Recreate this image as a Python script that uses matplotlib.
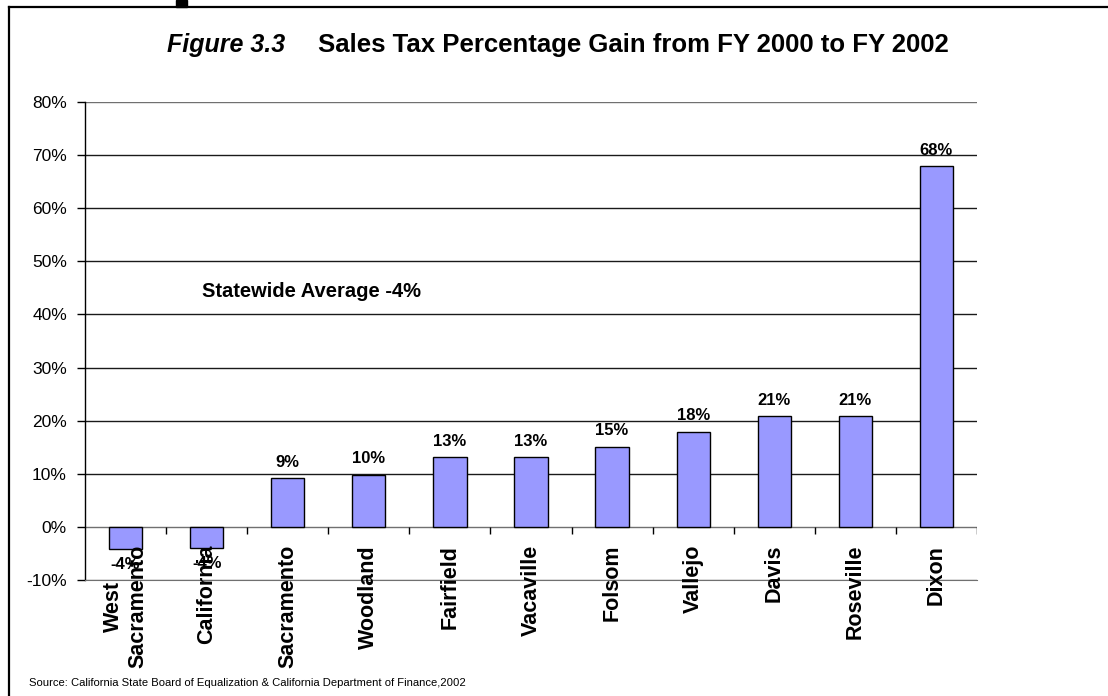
import numpy as np
import matplotlib
matplotlib.use("Agg")
import matplotlib.pyplot as plt
from matplotlib.patches import Rectangle
from matplotlib.lines import Line2D

plt.rcParams['font.family'] = ['Liberation Sans', 'DejaVu Sans']

# dados (ganho percentual FY2000 -> FY2002)
cidades = ['West\nSacramento', 'California', 'Sacramento', 'Woodland', 'Fairfield',
           'Vacaville', 'Folsom', 'Vallejo', 'Davis', 'Roseville', 'Dixon']
ganho = [-4.1, -4.0, 9.2, 9.8, 13.1, 13.1, 15.1, 17.9, 20.9, 20.9, 67.9]
rotulos = ['-4%', '-4%', '9%', '10%', '13%', '13%', '15%', '18%', '21%', '21%', '68%']
yticks = [-10, 0, 10, 20, 30, 40, 50, 60, 70, 80]

fig = plt.figure(figsize=(11.08, 6.96), dpi=100)
ax = fig.add_axes([0.0767, 0.1667, 0.8051, 0.6867])

x = np.arange(len(cidades))
ax.bar(x, ganho, width=0.41, color='#9999FF', edgecolor='black', linewidth=1.0, zorder=3)

ax.set_xlim(-0.5, len(cidades) - 0.5)
ax.set_ylim(-10, 80)
ax.set_yticks(yticks)
ax.set_yticklabels([f'{v}%' for v in yticks], fontsize=12.5)
ax.tick_params(axis='y', length=6, width=1, pad=7)
ax.set_xticks([])

# grade horizontal
ax.yaxis.grid(True, color='#1a1a1a', linewidth=1.0, zorder=0)
for v, gl in zip(yticks, ax.get_ygridlines()):
    if v in (-10, 0, 80):
        gl.set_color('#707070')
ax.set_axisbelow(True)

for s in ['top', 'right']:
    ax.spines[s].set_visible(False)
ax.spines['bottom'].set_color('#707070')
ax.spines['left'].set_linewidth(1.0)

# marcas do eixo de categorias sobre a linha de 0%
limites = np.arange(len(cidades) + 1) - 0.5
ax.vlines(limites[1:], -1.3, 0, color='black', linewidth=1.0, zorder=4)

# rótulos das categorias
for i, nome in enumerate(cidades):
    ax.annotate(nome, (i, 0), xytext=(0, -13), textcoords='offset points',
                rotation=90, ha='center', va='top', fontsize=15.5,
                fontweight='bold', zorder=5)

# rótulos de valores
for i, (v, r) in enumerate(zip(ganho, rotulos)):
    if v >= 0:
        ax.annotate(r, (i, v), xytext=(0, 6), textcoords='offset points',
                    ha='center', va='bottom', fontsize=12, fontweight='bold')
    else:
        ax.annotate(r, (i, v), xytext=(0, -6), textcoords='offset points',
                    ha='center', va='top', fontsize=12, fontweight='bold', zorder=6)

ax.text(0.131, 0.603, 'Statewide Average -4%', transform=ax.transAxes,
        fontsize=14.5, fontweight='bold', ha='left', va='center')

# título
fig.text(0.151, 0.936, 'Figure 3.3', fontsize=18, fontweight='bold', style='italic',
         ha='left', va='center')
fig.text(0.572, 0.936, 'Sales Tax Percentage Gain from FY 2000 to FY 2002',
         fontsize=18.5, fontweight='bold', ha='center', va='center')

fig.text(0.026, 0.018, 'Source: California State Board of Equalization & California Department of Finance,2002',
         fontsize=8.1, ha='left', va='center')

# moldura da página
fig.add_artist(Line2D([0.0085, 0.0085], [0, 0.99], transform=fig.transFigure,
                      color='black', linewidth=1.6))
fig.add_artist(Line2D([0.0085, 1.0], [0.99, 0.99], transform=fig.transFigure,
                      color='black', linewidth=1.6))
fig.add_artist(Rectangle((0.159, 0.99), 0.01, 0.01, transform=fig.transFigure,
                         color='black'))

fig.savefig('out.png', dpi=100)
